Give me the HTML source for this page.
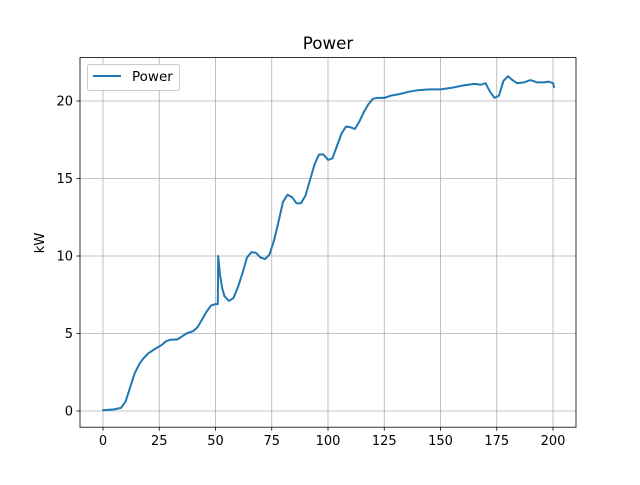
<!DOCTYPE html>
<html><head><meta charset="utf-8"><style>
body{margin:0;background:#fff}
svg{font-family:"DejaVu Sans","Liberation Sans",sans-serif}
</style></head><body>
<svg width="640" height="480" viewBox="0 0 640 480">
<rect width="640" height="480" fill="#fff"/>
<g id="grid"></g>
<g id="axes"></g>
<path id="line" fill="none" stroke="#1f77b4" stroke-width="2" stroke-linejoin="round" stroke-linecap="round"/>
<rect x="80" y="57.6" width="496" height="369.6" fill="none" stroke="#000" stroke-width="0.8"/>
<text x="328" y="49" text-anchor="middle" font-size="16.7">Power</text>
<text transform="translate(44,243) rotate(-90)" text-anchor="middle" font-size="13.3">kW</text>
<g>
<rect x="87.5" y="64.5" width="92" height="26" rx="2" fill="#fff" stroke="#ccc"/>
<line x1="93" y1="76" x2="121" y2="76" stroke="#1f77b4" stroke-width="2"/>
<text x="132" y="81" font-size="13.5">Power</text>
</g>
</svg>
<script>
const xs=[0,5,8,10,12,14,16,18,20,23,26,28,30,33,35,37,40,42,44,46,48,50,51,51.2,52,53,54,56,58,60,62,64,66,68,70,72,74,76,78,80,82,84,86,88,90,92,94,96,98,100,102,104,106,108,110,112,114,116,118,120,122,125,128,132,136,140,145,150,155,160,165,168,170,172,174,176,178,180,182,184,187,190,193,196,198,200,200.5];
const ys=[0.05,0.1,0.2,0.6,1.5,2.4,3.0,3.4,3.7,4.0,4.25,4.5,4.6,4.62,4.8,5.0,5.15,5.4,5.9,6.4,6.8,6.9,6.9,10.0,8.8,7.9,7.4,7.1,7.3,8.0,8.9,9.9,10.25,10.2,9.9,9.8,10.1,11.0,12.2,13.5,13.95,13.8,13.4,13.4,13.9,14.9,15.9,16.55,16.55,16.2,16.3,17.1,17.9,18.35,18.3,18.2,18.7,19.3,19.8,20.15,20.2,20.2,20.35,20.45,20.6,20.7,20.75,20.75,20.85,21.0,21.1,21.05,21.15,20.6,20.2,20.35,21.3,21.6,21.35,21.15,21.2,21.35,21.2,21.2,21.25,21.15,20.9];
const xTicks=[0,25,50,75,100,125,150,175,200];
const yTicks=[0,5,10,15,20];
const X=v=>103+v*2.25, Y=v=>411-v*15.5;
const NS='http://www.w3.org/2000/svg';
const grid=document.getElementById('grid'), axes=document.getElementById('axes');
function mk(t,a,p){const e=document.createElementNS(NS,t);for(const k in a)e.setAttribute(k,a[k]);p.appendChild(e);return e;}
xTicks.forEach(t=>{
 const g=mk('line',{x1:X(t),x2:X(t),y1:57.6,y2:427.2,stroke:'#b0b0b0','stroke-width':0.8},grid);
 
 
 const k=mk('line',{x1:X(t),x2:X(t),y1:427.2,y2:430.7,stroke:'#000','stroke-width':0.8},axes);
 
 
 const l=mk('text',{x:X(t),y:445,'text-anchor':'middle','font-size':13},axes);l.textContent=t;
 
 
});
yTicks.forEach(t=>{
 const g=mk('line',{x1:80,x2:576,y1:Y(t),y2:Y(t),stroke:'#b0b0b0','stroke-width':0.8},grid);
 
 
 const k=mk('line',{x1:76.5,x2:80,y1:Y(t),y2:Y(t),stroke:'#000','stroke-width':0.8},axes);
 
 
 const l=mk('text',{x:73,y:Y(t)+4.7,'text-anchor':'end','font-size':13},axes);l.textContent=t;
 
 
});
document.getElementById('line').setAttribute('d',xs.map((x,i)=>(i?'L':'M')+X(x).toFixed(1)+','+Y(ys[i]).toFixed(1)).join(''));
</script>
</body></html>
